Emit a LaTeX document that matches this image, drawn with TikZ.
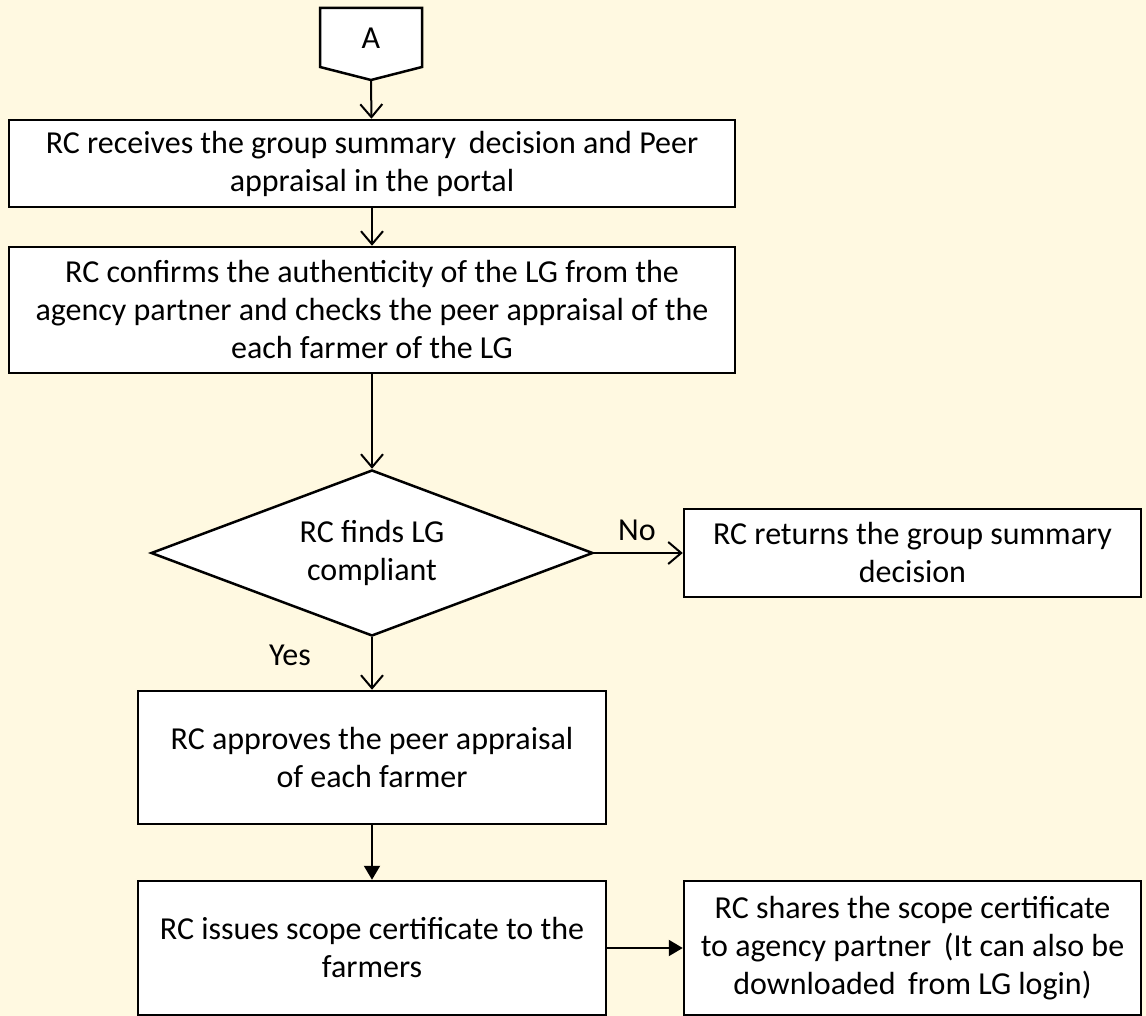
\documentclass[tikz,border=0pt]{standalone}
\usepackage{fontspec}
\setmainfont{Carlito}
\usetikzlibrary{shapes.geometric,arrows.meta}
\definecolor{pagecream}{RGB}{255,249,225}
\newcommand{\boxline}{2.5pt}
\newcommand{\arrowline}{2pt}

\begin{document}
\begin{tikzpicture}[x=1pt,y=-1pt,
  every node/.style={font=\fontsize{32}{38}\selectfont},
  stepbox/.style={draw, fill=white, line width=\boxline, align=center, inner sep=0pt},
  openarrow/.style={line width=\arrowline, -{Straight Barb[length=13pt,width=22pt]}},
  fillarrow/.style={line width=\arrowline, -{Triangle[length=14pt,width=16pt]}}]

% page
\fill[pagecream] (0,0) rectangle (1146,1016);
\useasboundingbox (0,0) rectangle (1146,1016);

% off-page connector
\filldraw[fill=white, line width=\boxline] (320,8) -- (422,8) -- (422,67) -- (371,80) -- (320,67) -- cycle;
\node (conA) at (371,38) {A};
\coordinate (Atip) at (371,80);

\node[stepbox, minimum width=726pt, minimum height=87pt] (recv) at (372,163.5)
  {RC receives the group summary\, decision and Peer\\appraisal in the portal};
\node[stepbox, minimum width=726pt, minimum height=126pt] (confirm) at (372,310)
  {RC confirms the authenticity of the LG from the\\agency partner and checks the peer appraisal of the\\each farmer of the LG};
\node[draw, fill=white, line width=\boxline, shape=diamond, shape aspect=2.66, align=center, inner sep=0pt,
  minimum width=442pt, minimum height=166pt] (check) at (372,553)
  {RC finds LG\\compliant};
\node[stepbox, minimum width=457pt, minimum height=88pt] (returns) at (912.5,553)
  {RC returns the group summary\\decision};
\node[stepbox, minimum width=468pt, minimum height=133pt] (approve) at (372,757.5)
  {RC approves the peer appraisal\\of each farmer};
\node[stepbox, minimum width=468pt, minimum height=134pt] (issue) at (372,948)
  {RC issues scope certificate to the\\farmers};
\node[stepbox, minimum width=457pt, minimum height=134pt] (share) at (912.5,948)
  {RC shares the scope certificate\\to agency partner\, (It can also be\\downloaded\, from LG login)};

\node (no) at (637,530) {No};
\node (yes) at (290,655) {Yes};

\draw[openarrow] (Atip) -- (recv);
\draw[openarrow] (recv) -- (confirm);
\draw[openarrow] (confirm) -- (check);
\draw[openarrow] (check.east) -- (returns);
\draw[openarrow] (check.south) -- (approve);
\draw[fillarrow] (approve) -- (issue);
\draw[fillarrow] (issue) -- (share);

\end{tikzpicture}
\end{document}
